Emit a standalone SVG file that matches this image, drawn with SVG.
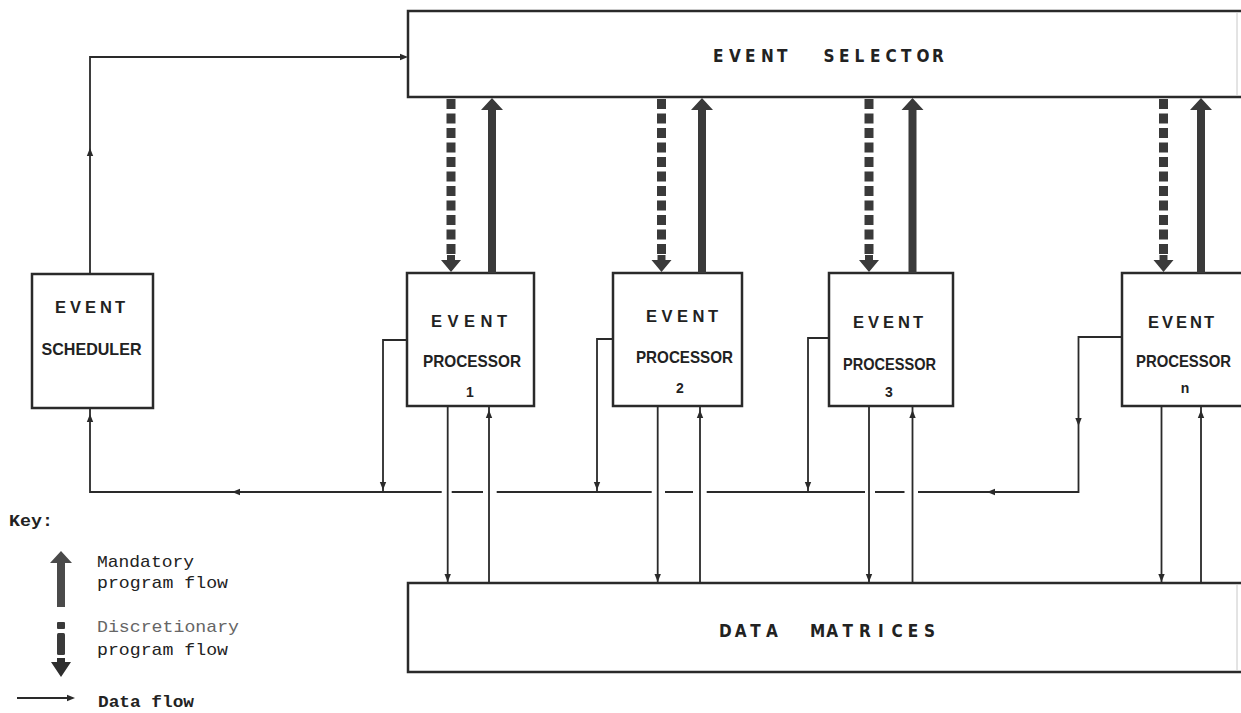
<svg xmlns="http://www.w3.org/2000/svg" xmlns:xlink="http://www.w3.org/1999/xlink" width="1241" height="713" viewBox="0 0 1241 713">
<style>
.box{fill:#fff;stroke:#2a2a2a;stroke-width:2.5}
.edge{fill:none;stroke:#2a2a2a;stroke-width:2.5}
.faint{fill:none;stroke:#c8c8c8;stroke-width:1}
.dl{fill:none;stroke:#2a2a2a;stroke-width:1.8}
.ah{fill:#2a2a2a}
.pf{fill:#3a3a3a}
.big{font-family:"Liberation Sans Narrow","DejaVu Sans Condensed","Liberation Sans",sans-serif;font-weight:bold;font-size:17px;fill:#222}
.lab{font-family:"Liberation Sans",Arial,sans-serif;font-weight:bold;font-size:16.5px;fill:#222}
.num{font-family:"Liberation Sans",Arial,sans-serif;font-weight:bold;font-size:14px;fill:#222;text-anchor:middle}
.key{font-family:"Liberation Mono","DejaVu Sans Mono",monospace;font-size:17px;fill:#222}
</style>
<defs>
<polygon id="ar" points="0,0 -8,-3.2 -8,3.2"/>
<polygon id="mand" points="0,0 11,12 4,12 4,175 -4,175 -4,12 -11,12"/>
<g id="disc">
<line x1="0" y1="2" x2="0" y2="157" stroke="#3a3a3a" stroke-width="9" stroke-dasharray="10 4.5"/>
<polygon points="-4,158 4,158 4,163 10,163 0,175 -10,163 -4,163"/>
</g>
</defs>
<rect width="1241" height="713" fill="#fff"/>

<g id="event-selector">
<path class="edge" d="M1241,11 H408 V97 H1241"/>
<line class="faint" x1="1237" y1="12" x2="1237" y2="96"/>
<text class="big" x="713 729 745 761 777 795 823.5 839 854.5 870 885.5 901 916.5 932" y="62">EVENT SELECTOR</text>
</g>

<g id="event-scheduler">
<rect class="box" x="32" y="274" width="121" height="134"/>
<text class="lab" x="55 70 85 100 115" y="313">EVENT</text>
<text class="lab" x="41.5" y="355" textLength="100" lengthAdjust="spacingAndGlyphs">SCHEDULER</text>
</g>

<g id="event-processor-1">
<rect class="box" x="407" y="273" width="127" height="133"/>
<text class="lab" x="431 447.5 464 480.5 497" y="327">EVENT</text>
<text class="lab" x="423" y="367" textLength="98" lengthAdjust="spacingAndGlyphs">PROCESSOR</text>
<text class="num" x="470" y="397">1</text>
</g>

<g id="event-processor-2">
<rect class="box" x="613" y="273" width="129" height="133"/>
<text class="lab" x="646 661.5 677 692.5 708" y="322">EVENT</text>
<text class="lab" x="636" y="363" textLength="97" lengthAdjust="spacingAndGlyphs">PROCESSOR</text>
<text class="num" x="680" y="393">2</text>
</g>

<g id="event-processor-3">
<rect class="box" x="829" y="273" width="124" height="133"/>
<text class="lab" x="853 868 883 898 913" y="328">EVENT</text>
<text class="lab" x="843" y="370" textLength="93" lengthAdjust="spacingAndGlyphs">PROCESSOR</text>
<text class="num" x="889" y="397">3</text>
</g>

<g id="event-processor-n">
<path class="edge" d="M1243,273 H1122 V406 H1243"/>
<text class="lab" x="1148 1162 1176 1190 1204" y="328">EVENT</text>
<text class="lab" x="1136" y="367" textLength="95" lengthAdjust="spacingAndGlyphs">PROCESSOR</text>
<text class="num" x="1185" y="393">n</text>
</g>

<g id="data-matrices">
<path class="edge" d="M1241,583 H408 V672 H1241"/>
<line class="faint" x1="1237" y1="584" x2="1237" y2="671"/>
<text class="big" x="719 734.7 750.3 766 790 810 826.3 842.6 858.9 878 891.5 907.8 924.1" y="637">DATA MATRICES</text>
</g>

<g id="connectors">
<g class="pf">
<use xlink:href="#disc" x="451" y="97"/>
<use xlink:href="#mand" x="492" y="98"/>
<use xlink:href="#disc" x="661.5" y="97"/>
<use xlink:href="#mand" x="702" y="98"/>
<use xlink:href="#disc" x="869" y="97"/>
<use xlink:href="#mand" x="912.5" y="98"/>
<use xlink:href="#disc" x="1163.5" y="97"/>
<use xlink:href="#mand" x="1201" y="98"/>
</g>
<path class="dl" d="M90,274 V57 H402"/>
<use class="ah" xlink:href="#ar" transform="translate(408,57)"/>
<use class="ah" xlink:href="#ar" transform="translate(90,148) rotate(-90)"/>
<path class="dl" d="M90,408 V492 H441.7 M451.7,492 H483 M496.7,492 H651.7 M665,492 H693 M706.7,492 H865 M875,492 H904.5 M918,492 H1078.5 V337 H1122"/>
<use class="ah" xlink:href="#ar" transform="translate(90,414) rotate(-90)"/>
<use class="ah" xlink:href="#ar" transform="translate(232,492) rotate(180)"/>
<use class="ah" xlink:href="#ar" transform="translate(987,492) rotate(180)"/>
<use class="ah" xlink:href="#ar" transform="translate(1078.5,426) rotate(90)"/>
<path class="dl" d="M407,340 H383 V492"/>
<use class="ah" xlink:href="#ar" transform="translate(383,490) rotate(90)"/>
<path class="dl" d="M613,339 H597 V492"/>
<use class="ah" xlink:href="#ar" transform="translate(597,490) rotate(90)"/>
<path class="dl" d="M829,338 H808 V492"/>
<use class="ah" xlink:href="#ar" transform="translate(808,490) rotate(90)"/>
<path class="dl" d="M447.7,406 V583 M489,406 V583 M657.7,406 V583 M700,406 V583 M869,406 V583 M912.5,406 V583 M1161.5,406 V583 M1201,406 V583"/>
<use class="ah" xlink:href="#ar" transform="translate(447.7,582) rotate(90)"/>
<use class="ah" xlink:href="#ar" transform="translate(657.7,582) rotate(90)"/>
<use class="ah" xlink:href="#ar" transform="translate(869,582) rotate(90)"/>
<use class="ah" xlink:href="#ar" transform="translate(1161.5,582) rotate(90)"/>
<use class="ah" xlink:href="#ar" transform="translate(489,410) rotate(-90)"/>
<use class="ah" xlink:href="#ar" transform="translate(700,410) rotate(-90)"/>
<use class="ah" xlink:href="#ar" transform="translate(912.5,410) rotate(-90)"/>
<use class="ah" xlink:href="#ar" transform="translate(1201,410) rotate(-90)"/>
</g>

<g id="key">
<text class="key" x="9" y="526" font-weight="bold" textLength="44" lengthAdjust="spacingAndGlyphs">Key:</text>
<polygon fill="#4a4a4a" points="61,551 72,563 65,563 65,607 57,607 57,563 50,563"/>
<text class="key" x="97" y="567" textLength="97" lengthAdjust="spacingAndGlyphs">Mandatory</text>
<text class="key" x="97" y="588" textLength="131" lengthAdjust="spacingAndGlyphs">program flow</text>
<rect x="57" y="622" width="8" height="7" rx="1" fill="#3a3a3a"/>
<rect x="57" y="633" width="8" height="22" rx="1.5" fill="#3a3a3a"/>
<polygon fill="#2e2e2e" points="57,658 65,658 65,662 71,662 61,677 51,662 57,662"/>
<text class="key" x="97" y="632" style="fill:#666" textLength="142" lengthAdjust="spacingAndGlyphs">Discretionary</text>
<text class="key" x="97" y="655" textLength="131" lengthAdjust="spacingAndGlyphs">program flow</text>
<line class="dl" x1="17" y1="698" x2="68" y2="698"/>
<use class="ah" xlink:href="#ar" transform="translate(75,698)"/>
<text class="key" x="98" y="707" font-weight="bold" textLength="96" lengthAdjust="spacingAndGlyphs">Data flow</text>
</g>
</svg>
